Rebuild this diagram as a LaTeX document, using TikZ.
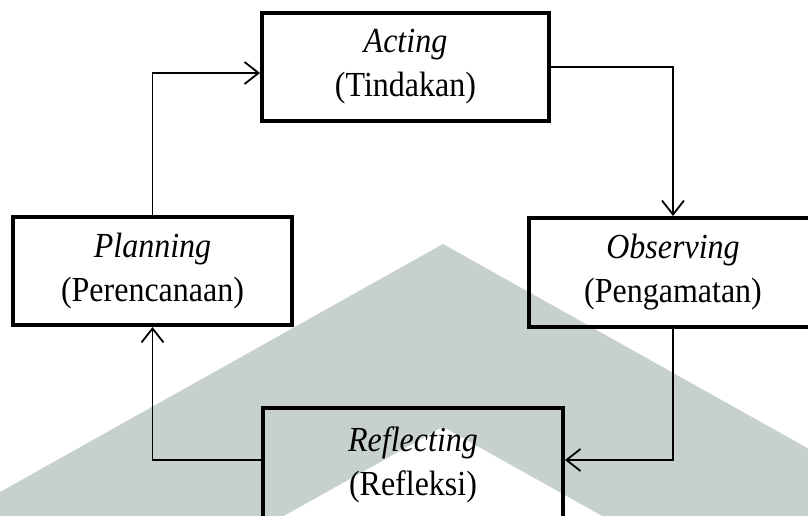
\documentclass[tikz,border=0pt]{standalone}
\usepackage{fontspec}
\usepackage{graphicx}
\setmainfont{Liberation Serif}
\usetikzlibrary{arrows.meta}
\definecolor{wmgray}{RGB}{198,208,204}
\newcommand{\tallline}[1]{\scalebox{1}[1.1]{#1}}
\tikzset{
  box/.style={draw=black, line width=4pt, fill=none, inner sep=0pt, align=center,
    font=\fontsize{32}{44}\selectfont},
  conn/.style={draw=black, line width=1.8pt, -{Straight Barb[length=14pt,width=22pt,line width=1.8pt]}},
}
\begin{document}
\begin{tikzpicture}[x=1pt,y=-1pt]
\useasboundingbox (0,0) rectangle (808,516);
\clip (0,0) rectangle (808,516);
% watermark
\fill[wmgray] (443,244) -- (900,500) -- (900,620) -- (-100,620) -- (-100,548) -- cycle;
\fill[white] (443,427) -- (752,600) -- (134,600) -- cycle;
% boxes
\node[box, minimum width=287pt, minimum height=108pt] (act) at (405.5,67) {\tallline{\textit{Acting}}\\\tallline{(Tindakan)}};
\node[box, minimum width=279pt, minimum height=108pt] (plan) at (152.5,271) {\tallline{\textit{Planning}}\\\tallline{(Perencanaan)}};
\node[box, minimum width=288pt, minimum height=109pt] (obs) at (673,272.5) {\tallline{\textit{Observing}}\\\tallline{(Pengamatan)}};
\node[box, minimum width=300pt, minimum height=114pt] (refl) at (413,465) {\tallline{\textit{Reflecting}}\\\tallline{(Refleksi)}};
% connectors
\draw[conn] (plan.north) |- ([yshift=-6pt]act.west);
\draw[conn] (act.east) -| (obs.north);
\draw[conn] (obs.south) |- ([yshift=5pt]refl.east);
\draw[conn] ([yshift=5pt]refl.west) -| (plan.south);
\end{tikzpicture}
\end{document}
